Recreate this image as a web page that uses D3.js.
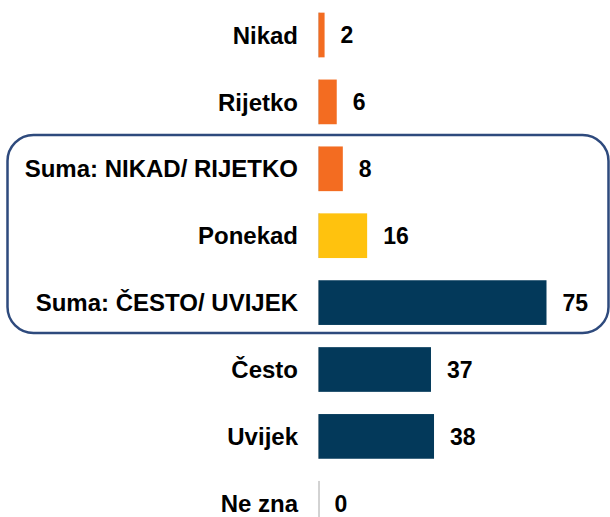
<!DOCTYPE html>
<html>
<head>
<meta charset="utf-8">
<script src="https://cdn.jsdelivr.net/npm/d3@7"></script>
<style>
  html, body { margin: 0; padding: 0; background: #ffffff; }
  svg { display: block; font-family: "Liberation Sans", Arial, sans-serif; }
</style>
</head>
<body>
<svg id="chart" width="610" height="517"></svg>
<script>
// Answer categories, top to bottom
const categories = [
  "Nikad",
  "Rijetko",
  "Suma: NIKAD/ RIJETKO",
  "Ponekad",
  "Suma: ČESTO/ UVIJEK",
  "Često",
  "Uvijek",
  "Ne zna"
];
// Share of respondents (%)
const values = [2, 6, 8, 16, 75, 37, 38, 0];
// Colour group for each category
const groups = ["low", "low", "low", "mid", "high", "high", "high", "high"];
// Categories enclosed by the highlight frame
const framed = ["Suma: NIKAD/ RIJETKO", "Suma: ČESTO/ UVIJEK"];

const palette = { low: "#F36C21", mid: "#FFC20E", high: "#03395A" };

const svg = d3.select("#chart");

const step = 66.9;
const firstCenter = 35;
const y = d3.scaleBand()
  .domain(categories)
  .range([firstCenter - step / 2, firstCenter - step / 2 + step * categories.length])
  .paddingInner(0.332)
  .paddingOuter(0.166);

const x = d3.scaleLinear().domain([0, 100]).range([318.5, 622.5]);

const data = categories.map((c, i) => ({ cat: c, val: values[i], grp: groups[i] }));

// Rounded frame around the two summary rows and the row between them
const fTop = y(framed[0]) - 11.5;
const fBot = y(framed[1]) + y.bandwidth() + 8;
svg.append("rect")
  .attr("x", 7.5)
  .attr("y", fTop)
  .attr("width", 601)
  .attr("height", fBot - fTop)
  .attr("rx", 26)
  .attr("ry", 26)
  .attr("fill", "none")
  .attr("stroke", "#2E4A7D")
  .attr("stroke-width", 2.5);

// Baseline segment for each bar (visible where a bar has no length)
svg.append("g")
  .selectAll("line")
  .data(data)
  .join("line")
  .attr("x1", x(0) + 0.5)
  .attr("x2", x(0) + 0.5)
  .attr("y1", d => y(d.cat))
  .attr("y2", d => y(d.cat) + y.bandwidth())
  .attr("stroke", "#A6A6A6")
  .attr("stroke-width", 1);

// Bars
svg.append("g")
  .selectAll("rect")
  .data(data)
  .join("rect")
  .attr("x", x(0))
  .attr("y", d => y(d.cat))
  .attr("width", d => x(d.val) - x(0))
  .attr("height", y.bandwidth())
  .attr("fill", d => palette[d.grp]);

// Category labels
svg.append("g")
  .selectAll("text")
  .data(data)
  .join("text")
  .attr("x", 298)
  .attr("y", d => y(d.cat) + y.bandwidth() / 2)
  .attr("dy", "0.36em")
  .attr("text-anchor", "end")
  .attr("font-size", 24)
  .attr("font-weight", "bold")
  .attr("fill", "#000")
  .text(d => d.cat);

// Value labels
svg.append("g")
  .selectAll("text")
  .data(data)
  .join("text")
  .attr("x", d => x(d.val) + 16)
  .attr("y", d => y(d.cat) + y.bandwidth() / 2)
  .attr("dy", "0.36em")
  .attr("font-size", 23)
  .attr("font-weight", "bold")
  .attr("fill", "#000")
  .text(d => d.val);
</script>
</body>
</html>
